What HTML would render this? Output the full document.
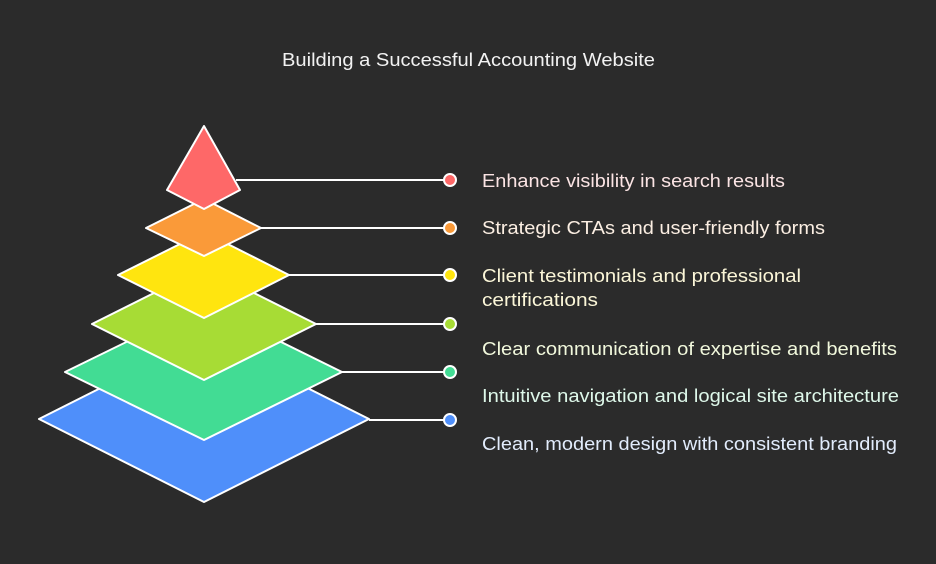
<!DOCTYPE html>
<html><head><meta charset="utf-8"><style>
html,body{margin:0;padding:0;background:#2b2b2b;}
svg{display:block;font-family:"Liberation Sans",sans-serif;}
</style></head><body>
<svg width="936" height="564" viewBox="0 0 936 564">
<rect width="936" height="564" fill="#2b2b2b"/>
<text x="282" y="66" font-size="18" fill="#f2f2f2" textLength="373" lengthAdjust="spacingAndGlyphs">Building a Successful Accounting Website</text>
<g stroke="#ffffff" stroke-width="2" stroke-linejoin="round">
<polygon points="39,419 204,336 369,419 204,502" fill="#4f8ffa"/>
<polygon points="65,372 204,304 342,372 204,440" fill="#42dc94"/>
<polygon points="92,324 204,268 316,324 204,380" fill="#a7dc35"/>
<polygon points="118,275 204,232 289,275 204,318" fill="#ffe50f"/>
<polygon points="146,228 204,199 261,228 204,256" fill="#fa9a39"/>
<polygon points="204,126 240,190 204,209 167,190" fill="#fe6868"/>
<line x1="236" y1="180" x2="450" y2="180"/>
<line x1="261" y1="228" x2="450" y2="228"/>
<line x1="289" y1="275" x2="450" y2="275"/>
<line x1="316" y1="324" x2="450" y2="324"/>
<line x1="342" y1="372" x2="450" y2="372"/>
<line x1="369" y1="420" x2="450" y2="420"/>
<circle cx="450" cy="180" r="6" fill="#fe6868"/>
<circle cx="450" cy="228" r="6" fill="#fa9a39"/>
<circle cx="450" cy="275" r="6" fill="#ffe50f"/>
<circle cx="450" cy="324" r="6" fill="#a7dc35"/>
<circle cx="450" cy="372" r="6" fill="#42dc94"/>
<circle cx="450" cy="420" r="6" fill="#4f8ffa"/>
</g>
<g font-size="18.5" lengthAdjust="spacingAndGlyphs">
<text x="482" y="187" fill="#fbe4e4" textLength="303" lengthAdjust="spacingAndGlyphs">Enhance visibility in search results</text>
<text x="482" y="234" fill="#fbeee2" textLength="343" lengthAdjust="spacingAndGlyphs">Strategic CTAs and user-friendly forms</text>
<text x="482" y="282" fill="#fbf6d8" textLength="319" lengthAdjust="spacingAndGlyphs">Client testimonials and professional</text>
<text x="482" y="306" fill="#fbf6d8" textLength="116" lengthAdjust="spacingAndGlyphs">certifications</text>
<text x="482" y="355" fill="#f1f8dc" textLength="415" lengthAdjust="spacingAndGlyphs">Clear communication of expertise and benefits</text>
<text x="482" y="402" fill="#def8ea" textLength="417" lengthAdjust="spacingAndGlyphs">Intuitive navigation and logical site architecture</text>
<text x="482" y="450" fill="#e2ecfc" textLength="415" lengthAdjust="spacingAndGlyphs">Clean, modern design with consistent branding</text>
</g>
</svg>
</body></html>
